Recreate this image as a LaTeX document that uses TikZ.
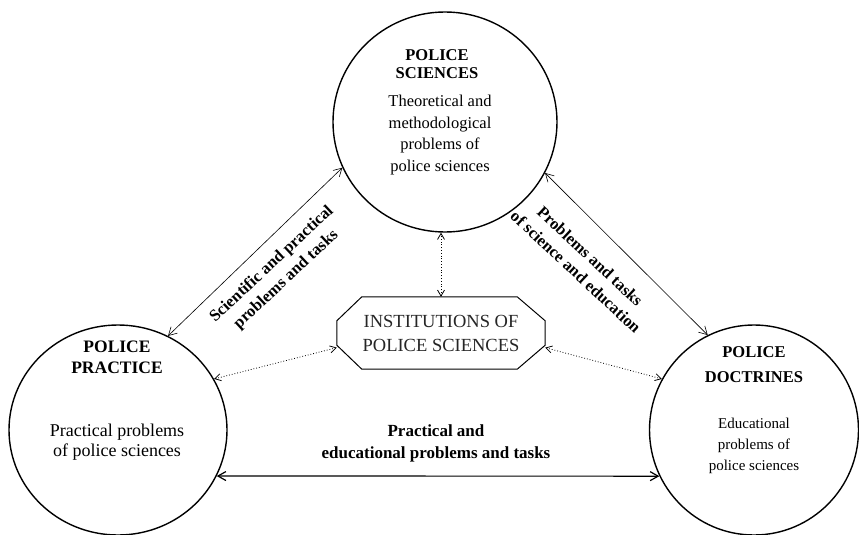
\documentclass[tikz,border=0pt]{standalone}
\usepackage{fontspec}
\setmainfont{Liberation Serif}
\usetikzlibrary{shapes.geometric,arrows.meta}
\begin{document}
\begin{tikzpicture}[x=1pt,y=-1pt,
  circ/.style={ellipse,draw,line width=1.4pt,inner sep=0pt},
  ttl/.style={align=center,inner sep=0pt,font=\bfseries\fontsize{16.5}{18}\selectfont},
  bdy/.style={align=center,inner sep=0pt},
  lab/.style={align=center,inner sep=0pt},
  link/.style={line width=0.6pt,{Straight Barb[length=8pt,width=9pt]}-{Straight Barb[length=8pt,width=9pt]}},
  dlink/.style={dotted,line width=0.8pt,{Straight Barb[length=6pt,width=7pt]}-{Straight Barb[length=6pt,width=7pt]}},
  octo/.style={draw,line width=1pt}
]
\useasboundingbox (0,0) rectangle (859,535);
\fill[white] (0,0) rectangle (859,535);

% circles
\node[circ,minimum width=224pt,minimum height=220pt] (T) at (445,122) {};
\node[circ,minimum width=218pt,minimum height=210pt] (L) at (118,430) {};
\node[circ,minimum width=209pt,minimum height=210pt] (R) at (754,430) {};

% circle texts
\node[ttl] (Tt) at (437,64) {POLICE\\SCIENCES};
\node[bdy,font=\fontsize{16.5}{21.5}\selectfont] (Tb) at (440,135) {Theoretical and\\methodological\\problems of\\police sciences};
\node[ttl,font=\bfseries\fontsize{17.5}{21}\selectfont] (Lt) at (117,357.5) {POLICE\\PRACTICE};
\node[bdy,font=\fontsize{18}{20}\selectfont] (Lb) at (117,442) {Practical problems\\of police sciences};
\node[ttl,font=\bfseries\fontsize{16.5}{25}\selectfont] (Rt) at (754,364.5) {POLICE\\DOCTRINES};
\node[bdy,font=\fontsize{15}{21}\selectfont] (Rb) at (754,446) {Educational\\problems of\\police sciences};

% institutions
\node[align=center,inner sep=0pt,minimum width=208pt,minimum height=72pt,
      font=\fontsize{18.5}{24}\selectfont,text=black!85] (O) at (441,333) {INSTITUTIONS OF\\POLICE SCIENCES};
\draw[octo] ([xshift=25pt]O.north west) -- ([xshift=-28pt]O.north east) -- ([yshift=-24pt]O.north east)
  -- ([yshift=24pt]O.south east) -- ([xshift=-28pt]O.south east) -- ([xshift=25pt]O.south west)
  -- ([yshift=24pt]O.south west) -- ([yshift=-24pt]O.north west) -- cycle;

% connector labels
\node[lab,rotate=43,font=\bfseries\fontsize{16.5}{21}\selectfont] (LL) at (279,272) {Scientific and practical\\problems and tasks};
\node[lab,rotate=-43,font=\bfseries\fontsize{16.5}{21}\selectfont] (RL) at (583,264) {Problems and tasks\\of science and education};
\node[lab,font=\bfseries\fontsize{17}{22}\selectfont] (BL) at (436,443) {Practical and\\educational problems and tasks};

% connectors
\draw[link] (L.62) -- (T.204);
\draw[link] (T.333) -- (R.116);
\draw[link,line width=1.2pt] (L.-25.7) -- (R.206.4);
\draw[dlink] (O.north) -- (O.north |- T.south);
\draw[dlink] (O.188) -- (L.28.6);
\draw[dlink] (O.352) -- (R.151.5);
\end{tikzpicture}
\end{document}
